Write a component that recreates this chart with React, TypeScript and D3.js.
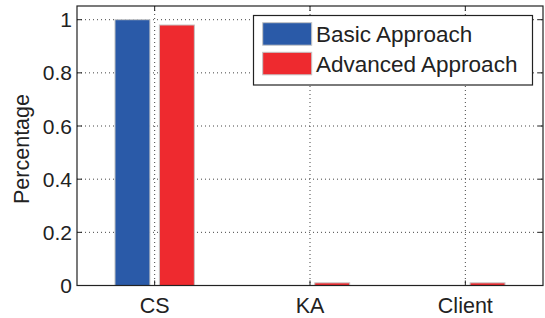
import React from "react";
import * as d3 from "d3";

const categories = ["CS", "KA", "Client"];
const basicValues = [1.0, 0, 0];
const advancedValues = [0.98, 0.01, 0.01];
const yTicks = [0, 0.2, 0.4, 0.6, 0.8, 1];
const seriesNames = ["Basic Approach", "Advanced Approach"];
const seriesColors = ["#2A5AA8", "#EE2A2F"];

const W = 545;
const H = 318;
const left = 77;
const right = 543;
const top = 6;
const bottom = 285.5;
const font = "'Liberation Sans', Arial, Helvetica, sans-serif";

export default function App() {
  const x = d3.scaleLinear().domain([0.5, 3.5]).range([left, right]);
  const y = d3.scaleLinear().domain([0, 1.0515]).range([bottom, top]);

  const barW = x(0.225) - x(0);
  const offset = x(0.143) - x(0);
  const series = [basicValues, advancedValues];
  const tickLen = 5;

  return (
    <svg
      width={W}
      height={H}
      style={{ position: "absolute", left: 0, top: 0, background: "#fff" }}
      fontFamily={font}
    >
      <rect x={0} y={0} width={W} height={H} fill="#fff" />

      {/* grid */}
      {yTicks.map((t) => (
        <line
          key={"gy" + t}
          x1={left}
          x2={right}
          y1={y(t)}
          y2={y(t)}
          stroke="#444"
          strokeWidth={1}
          strokeDasharray="1,3"
        />
      ))}
      {categories.map((c, i) => (
        <line
          key={"gx" + c}
          x1={x(i + 1)}
          x2={x(i + 1)}
          y1={top}
          y2={bottom}
          stroke="#444"
          strokeWidth={1}
          strokeDasharray="1,3"
        />
      ))}

      {/* bars */}
      {series.map((vals, s) =>
        vals.map((v, i) => {
          const cx = x(i + 1) + (s === 0 ? -offset : offset);
          const h = bottom - y(v);
          if (h <= 0) return null;
          return (
            <rect
              key={s + "-" + i}
              x={cx - barW / 2}
              y={y(v)}
              width={barW}
              height={h}
              fill={seriesColors[s]}
              stroke="#c4c4c4"
              strokeWidth={1}
            />
          );
        })
      )}

      {/* axes box */}
      <rect
        x={left}
        y={top}
        width={right - left}
        height={bottom - top}
        fill="none"
        stroke="#222"
        strokeWidth={1.2}
      />

      {/* ticks */}
      {yTicks.map((t) => (
        <g key={"ty" + t}>
          <line x1={left} x2={left + tickLen} y1={y(t)} y2={y(t)} stroke="#222" />
          <line x1={right} x2={right - tickLen} y1={y(t)} y2={y(t)} stroke="#222" />
          <text
            x={left - 5}
            y={y(t)}
            dy="0.36em"
            textAnchor="end"
            fontSize={21}
            fill="#222"
          >
            {t === 0 || t === 1 ? String(t) : t.toFixed(1)}
          </text>
        </g>
      ))}
      {categories.map((c, i) => (
        <g key={"tx" + c}>
          <line x1={x(i + 1)} x2={x(i + 1)} y1={bottom} y2={bottom - tickLen} stroke="#222" />
          <line x1={x(i + 1)} x2={x(i + 1)} y1={top} y2={top + tickLen} stroke="#222" />
          <text x={x(i + 1)} y={313} textAnchor="middle" fontSize={21.5} fill="#222">
            {c}
          </text>
        </g>
      ))}

      {/* y label */}
      <text
        transform={`translate(29,149) rotate(-90)`}
        textAnchor="middle"
        fontSize={21.5}
        fill="#222"
      >
        Percentage
      </text>

      {/* legend */}
      <rect x={253.5} y={15.5} width={279} height={69.5} fill="#fff" stroke="#222" strokeWidth={1.2} />
      {seriesNames.map((n, s) => (
        <g key={n}>
          <rect
            x={262.7}
            y={s === 0 ? 22.7 : 52.3}
            width={49}
            height={22.5}
            fill={seriesColors[s]}
            stroke="#c4c4c4"
            strokeWidth={1}
          />
          <text x={316} y={s === 0 ? 41.7 : 71.5} fontSize={22.5} fill="#222">
            {n}
          </text>
        </g>
      ))}
    </svg>
  );
}
